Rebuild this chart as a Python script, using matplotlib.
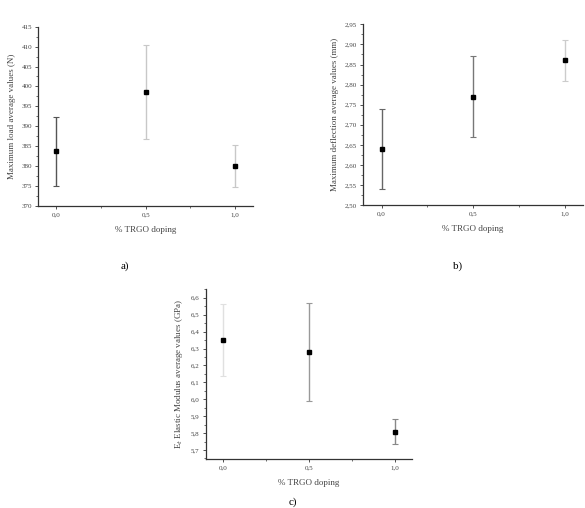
import matplotlib
matplotlib.use('Agg')
import matplotlib.pyplot as plt
from matplotlib.ticker import MultipleLocator, FuncFormatter, AutoMinorLocator

plt.rcParams['font.family'] = ['Liberation Serif', 'DejaVu Serif']

# data
doping = [0.0, 0.5, 1.0]
doping_labels = ['0,0', '0,5', '1,0']

load_mean = [383.7, 398.7, 380.0]
load_err = [8.6, 11.8, 5.3]
load_errcol = ['#555555', '#c8c8c8', '#c8c8c8']

defl_mean = [2.640, 2.770, 2.861]
defl_err = [0.100, 0.100, 0.051]
defl_errcol = ['#666666', '#777777', '#cccccc']

mod_mean = [6.350, 6.280, 5.808]
mod_err = [0.215, 0.290, 0.073]
mod_errcol = ['#e0e0e0', '#999999', '#888888']

fig = plt.figure(figsize=(5.85, 5.08), dpi=100)
txt = '#444444'


def panel(rect, mean, err, cols, ylim, ystep, yfmt, ylabel):
    ax = fig.add_axes(rect)
    for x, m, e, c in zip(doping, mean, err, cols):
        ax.errorbar(x, m, yerr=e, fmt='none', ecolor=c, elinewidth=1.0,
                    capsize=2.2, capthick=0.8)
        ax.plot(x, m, 's', color='black', markersize=3.2)
    ax.set_xlim(-0.1, 1.1)
    ax.set_ylim(*ylim)
    ax.set_xticks(doping)
    ax.set_xticklabels(doping_labels)
    ax.xaxis.set_minor_locator(MultipleLocator(0.25))
    ax.yaxis.set_major_locator(MultipleLocator(ystep))
    ax.yaxis.set_minor_locator(AutoMinorLocator(2))
    ax.yaxis.set_major_formatter(FuncFormatter(lambda v, p: (yfmt % v).replace('.', ',')))
    for s in ['top', 'right']:
        ax.spines[s].set_visible(False)
    for s in ['left', 'bottom']:
        ax.spines[s].set_color('#333333')
        ax.spines[s].set_linewidth(0.9)
    ax.tick_params(which='major', direction='out', length=2.5, width=0.6,
                   labelsize=5, colors='#333333', labelcolor=txt, pad=2)
    ax.tick_params(which='minor', direction='out', length=1.5, width=0.5, colors='#333333')
    ax.set_xlabel('% TRGO doping', fontsize=6.5, color=txt, labelpad=6)
    ax.set_ylabel(ylabel, fontsize=6.5, color=txt, labelpad=4)
    return ax


panel([0.0655, 0.5945, 0.367, 0.353], load_mean, load_err, load_errcol,
      (370, 415), 5, '%.0f', 'Maximum load average values (N)')
panel([0.621, 0.5959, 0.3755, 0.3563], defl_mean, defl_err, defl_errcol,
      (2.50, 2.95), 0.05, '%.2f', 'Maximum deflection average values (mm)')
panel([0.3516, 0.0959, 0.353, 0.3346], mod_mean, mod_err, mod_errcol,
      (5.645, 6.65), 0.1, '%.1f', 'E$_t$ Elastic Modulus average values (GPa)')

fig.text(125 / 585, 1 - 266 / 508, 'a)', fontsize=8, ha='center', va='center')
fig.text(458 / 585, 1 - 266 / 508, 'b)', fontsize=8, ha='center', va='center')
fig.text(293 / 585, 1 - 502 / 508, 'c)', fontsize=8, ha='center', va='center')

fig.savefig('out.png', dpi=100, facecolor='white')
